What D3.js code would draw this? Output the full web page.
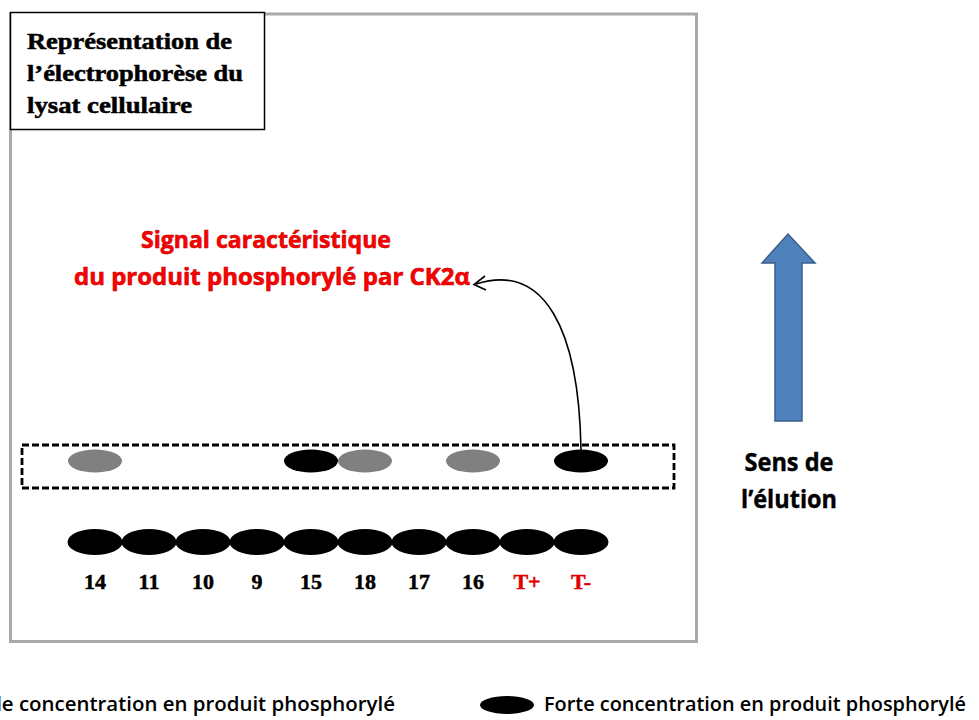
<!DOCTYPE html>
<html>
<head>
<meta charset="utf-8">
<script src="https://cdn.jsdelivr.net/npm/d3@7"></script>
<style>
  html, body { margin: 0; padding: 0; background: #fff; overflow: hidden; }
  svg { display: block; }
</style>
</head>
<body>
<script>
// ---- data ----
const lanes = ["14", "11", "10", "9", "15", "18", "17", "16", "T+", "T-"];
const controlLanes = ["T+", "T-"];
// signal in the upper (CK2α product) band: "forte", "faible" or null
const upperSignal = ["faible", null, null, null, "forte", "faible", null, "faible", null, "forte"];
// signal in the lower band (all lanes)
const lowerSignal = ["forte", "forte", "forte", "forte", "forte", "forte", "forte", "forte", "forte", "forte"];
const titleLines = ["Représentation de", "l\u2019électrophorèse du", "lysat cellulaire"];
const signalLines = ["Signal caractéristique", "du produit phosphorylé par CK2α"];
const elutionLines = ["Sens de", "l\u2019élution"];
const legendItems = [
  { key: "faible", label: "Faible concentration en produit phosphorylé" },
  { key: "forte", label: "Forte concentration en produit phosphorylé" }
];
const arrowLane = "T-";

// ---- drawing ----
const W = 979, H = 720;
const svg = d3.select("body").append("svg").attr("width", W).attr("height", H);

const colorFor = d3.scaleOrdinal().domain(["faible", "forte"]).range(["#808080", "#000000"]);
const x = d3.scalePoint().domain(lanes).range([95, 581]);

const narrow = "'Liberation Sans Narrow', 'Arial Narrow', 'Open Sans', sans-serif";
const serif = "'Liberation Serif', 'DejaVu Serif', serif";

// gel frame
svg.append("rect").attr("x", 10.5).attr("y", 14).attr("width", 686).attr("height", 627.5)
  .attr("fill", "#fff").attr("stroke", "#a9a9a9").attr("stroke-width", 3);

// title box
svg.append("rect").attr("x", 10.5).attr("y", 12.5).attr("width", 254).attr("height", 117)
  .attr("fill", "#fff").attr("stroke", "#000").attr("stroke-width", 1.5);
const titleLens = [205, 216, 165];
svg.selectAll("text.title").data(titleLines).join("text")
  .attr("class", "title")
  .attr("x", 27).attr("y", (d, i) => 49 + i * 32)
  .attr("font-family", serif).attr("font-weight", "bold").attr("font-size", 23)
  .attr("stroke", "#000").attr("stroke-width", 0.5)
  .attr("textLength", (d, i) => titleLens[i]).attr("lengthAdjust", "spacingAndGlyphs")
  .text(d => d);

// dashed band box
svg.append("rect").attr("x", 22).attr("y", 445).attr("width", 652).attr("height", 43)
  .attr("fill", "none").attr("stroke", "#000").attr("stroke-width", 2.8)
  .attr("stroke-dasharray", "7,3");

// upper band spots
const upper = lanes.map((l, i) => ({ lane: l, s: upperSignal[i] })).filter(d => d.s);
svg.selectAll("ellipse.up").data(upper).join("ellipse")
  .attr("class", "up")
  .attr("cx", d => x(d.lane)).attr("cy", 461)
  .attr("rx", 27).attr("ry", 11.5)
  .attr("fill", d => colorFor(d.s));

// lower band spots
const lower = lanes.map((l, i) => ({ lane: l, s: lowerSignal[i] })).filter(d => d.s);
svg.selectAll("ellipse.low").data(lower).join("ellipse")
  .attr("class", "low")
  .attr("cx", d => x(d.lane)).attr("cy", 542)
  .attr("rx", 27.5).attr("ry", 13)
  .attr("fill", d => colorFor(d.s));

// lane labels
svg.selectAll("text.lane").data(lanes).join("text")
  .attr("class", "lane")
  .attr("x", d => x(d)).attr("y", 589)
  .attr("text-anchor", "middle")
  .attr("font-family", serif).attr("font-weight", "bold").attr("font-size", 22)
  .attr("fill", d => controlLanes.includes(d) ? "#e00000" : "#000")
  .attr("stroke", d => controlLanes.includes(d) ? "#e00000" : "#000").attr("stroke-width", 0.5)
  .text(d => d);

// red annotation
const sigCenters = [266, 272];
const sigLens = [250, 396];
svg.selectAll("text.sig").data(signalLines).join("text")
  .attr("class", "sig")
  .attr("x", (d, i) => sigCenters[i] - sigLens[i] / 2).attr("y", (d, i) => 248 + i * 37)
  .attr("font-family", narrow).attr("font-weight", "bold").attr("font-size", 24)
  .attr("fill", "#ff0000")
  .attr("stroke", "#c00000").attr("stroke-width", 0.6)
  .attr("textLength", (d, i) => sigLens[i]).attr("lengthAdjust", "spacingAndGlyphs")
  .text(d => d);

// curved arrow from the T- upper spot to the annotation
const ax = x(arrowLane);
svg.append("path")
  .attr("d", `M${ax},450 C${ax - 2},330 ${ax - 36},262 476,284`)
  .attr("fill", "none").attr("stroke", "#000").attr("stroke-width", 1.6);
svg.append("path")
  .attr("d", "M485,276 L474,284.5 L486,290")
  .attr("fill", "none").attr("stroke", "#000").attr("stroke-width", 1.6)
  .attr("stroke-linejoin", "miter");

// blue elution arrow
svg.append("path")
  .attr("d", "M775,421 L775,263 L762,263 L788,234 L815,263 L802,263 L802,421 Z")
  .attr("fill", "#4f81bd").attr("stroke", "#3a5f8c").attr("stroke-width", 1.5);

const eluLens = [89, 96];
svg.selectAll("text.elu").data(elutionLines).join("text")
  .attr("class", "elu")
  .attr("x", (d, i) => 789 - eluLens[i] / 2).attr("y", (d, i) => 471 + i * 37)
  .attr("font-family", narrow).attr("font-weight", "bold").attr("font-size", 25)
  .attr("stroke", "#000").attr("stroke-width", 0.4)
  .attr("textLength", (d, i) => eluLens[i]).attr("lengthAdjust", "spacingAndGlyphs")
  .text(d => d);

// legend
const legX = [-82, 507];
const legLens = [440, 422];
const leg = svg.selectAll("g.leg").data(legendItems).join("g")
  .attr("class", "leg")
  .attr("transform", (d, i) => `translate(${legX[i]},705)`);
leg.append("ellipse").attr("rx", 27).attr("ry", 9).attr("fill", d => colorFor(d.key));
leg.append("text")
  .attr("x", 37).attr("y", 6)
  .attr("font-family", narrow).attr("font-weight", 600).attr("font-size", 20)
  .attr("textLength", (d, i) => legLens[i]).attr("lengthAdjust", "spacingAndGlyphs")
  .text(d => d.label);
</script>
</body>
</html>
